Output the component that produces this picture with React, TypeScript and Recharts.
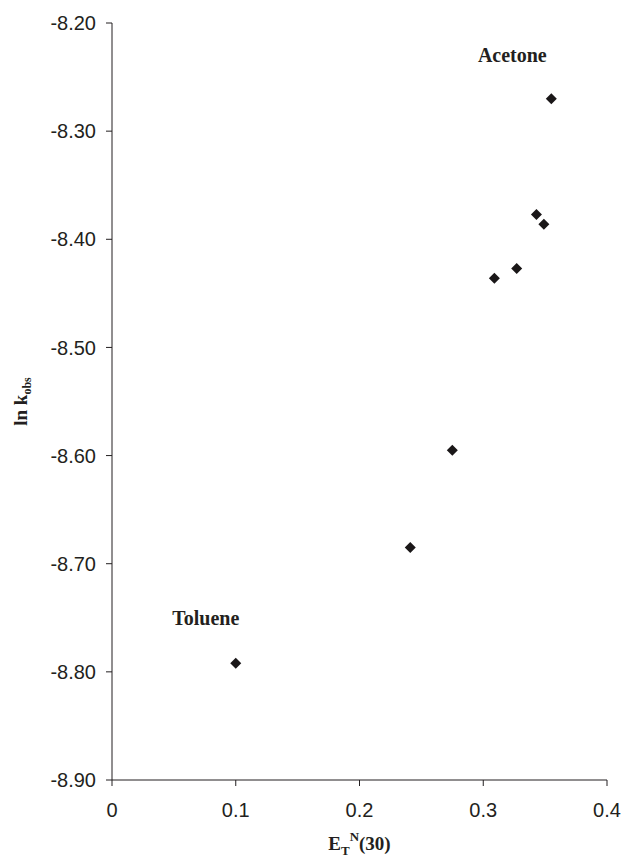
import { ScatterChart, Scatter, XAxis, YAxis, ZAxis, ReferenceDot, Label } from "recharts";

// E_T^N(30) solvent polarity vs ln k_obs
const solventPolarity = [0.1, 0.241, 0.275, 0.309, 0.327, 0.343, 0.349, 0.355];
const lnKobs = [-8.792, -8.685, -8.595, -8.436, -8.427, -8.377, -8.386, -8.27];
const xTicks = [0, 0.1, 0.2, 0.3, 0.4];
const yTicks = [-8.9, -8.8, -8.7, -8.6, -8.5, -8.4, -8.3, -8.2];
const solventNames = ["Toluene", "Acetone"];
const solventIndex = [0, 7];

const points = solventPolarity.map((x, i) => ({ x, y: lnKobs[i] }));

const ink = "#231f20";
const serif = "'Liberation Serif', 'Times New Roman', serif";
const sans = "'Liberation Sans', Arial, sans-serif";

const annotationOffset: Record<string, { dx: number; dy: number }> = {
  Toluene: { dx: -30, dy: -38 },
  Acetone: { dx: -39, dy: -37 },
};

// square diamond marker like the spreadsheet original
const Diamond = (props: any) => {
  const { cx, cy } = props;
  const h = 5.5;
  return (
    <polygon
      points={`${cx},${cy - h} ${cx + h},${cy} ${cx},${cy + h} ${cx - h},${cy}`}
      fill="#1a1718"
    />
  );
};

export default function App() {
  return (
    <div style={{ width: 623, height: 863, paddingTop: 8, paddingLeft: 8, boxSizing: "border-box", overflow: "hidden" }}>
      <style>{"html, body { margin: 0; overflow: hidden; }"}</style>
      <ScatterChart width={615} height={855} margin={{ top: 15, right: 16, bottom: 0, left: 0 }}>
        <XAxis
          type="number"
          dataKey="x"
          domain={[0, 0.4]}
          ticks={xTicks}
          tickFormatter={(v: number) => (v === 0 ? "0" : v.toFixed(1))}
          height={83}
          axisLine={{ stroke: ink }}
          tickLine={{ stroke: ink }}
          tickSize={6}
          tickMargin={17}
          tick={{ fill: ink, fontSize: 20, fontFamily: sans }}
          interval={0}
        >
          <Label
            content={(props: any) => {
              const vb = props.viewBox;
              return (
                <text
                  x={vb.x + vb.width / 2}
                  y={vb.y + 70}
                  textAnchor="middle"
                  fill={ink}
                  fontFamily={serif}
                  fontWeight="bold"
                  fontSize={19}
                >
                  E
                  <tspan fontSize={13} dy={5}>T</tspan>
                  <tspan fontSize={13} dy={-14}>N</tspan>
                  <tspan dy={9}>(30)</tspan>
                </text>
              );
            }}
          />
        </XAxis>
        <YAxis
          type="number"
          dataKey="y"
          domain={[-8.9, -8.2]}
          ticks={yTicks}
          tickFormatter={(v: number) => v.toFixed(2)}
          width={104}
          axisLine={{ stroke: ink }}
          tickLine={{ stroke: ink }}
          tickSize={6}
          tickMargin={10}
          tick={{ fill: ink, fontSize: 20, fontFamily: sans }}
          interval={0}
        >
          <Label
            content={(props: any) => {
              const vb = props.viewBox;
              const cx = 19;
              const cy = vb.y + vb.height / 2;
              return (
                <text
                  x={cx}
                  y={cy}
                  transform={`rotate(-90 ${cx} ${cy})`}
                  textAnchor="middle"
                  fill={ink}
                  fontFamily={serif}
                  fontWeight="bold"
                  fontSize={19}
                >
                  ln k
                  <tspan fontSize={12} dy={4}>obs</tspan>
                </text>
              );
            }}
          />
        </YAxis>
        <ZAxis range={[60, 60]} />
        <Scatter data={points} shape={<Diamond />} isAnimationActive={false} />
        {solventNames.map((name, k) => {
          const p = points[solventIndex[k]];
          const off = annotationOffset[name];
          return (
            <ReferenceDot
              key={name}
              x={p.x}
              y={p.y}
              r={0}
              fill="none"
              stroke="none"
              label={(props: any) => {
                const vb = props.viewBox;
                return (
                  <text
                    x={vb.x + off.dx}
                    y={vb.y + off.dy}
                    textAnchor="middle"
                    fill={ink}
                    fontFamily={serif}
                    fontWeight="bold"
                    fontSize={20}
                  >
                    {name}
                  </text>
                );
              }}
            />
          );
        })}
      </ScatterChart>
    </div>
  );
}
